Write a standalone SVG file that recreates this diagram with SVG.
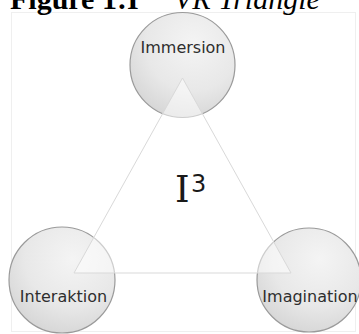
<svg xmlns="http://www.w3.org/2000/svg" width="359" height="334" viewBox="0 0 359 334">
<defs>
<radialGradient id="g" cx="0.6" cy="0.3" r="0.75">
<stop offset="0" stop-color="#f4f4f4"/>
<stop offset="0.6" stop-color="#e8e8e8"/>
<stop offset="1" stop-color="#d5d5d5"/>
</radialGradient>
<style>
.node{fill:url(#g);stroke:#9a9a9a;stroke-width:1.2}
.lbl{font-family:"DejaVu Sans",Verdana,sans-serif;font-size:16px;fill:#2e2e2e;text-anchor:middle}
.tri{fill:#ffffff;fill-opacity:0.5;stroke:#d9d9d9;stroke-width:1}
.title{font-family:'Liberation Serif','Times New Roman',serif;font-size:30px;fill:#000}
</style>
</defs>
<rect x="0" y="0" width="359" height="334" fill="#ffffff"/>
<rect x="11.5" y="12.5" width="344" height="319" fill="none" stroke="#efefef" stroke-width="1"/>
<text class="title" x="10" y="9" font-weight="bold">Figure 1:</text>
<text class="title" x="127" y="9" font-weight="bold">I</text>
<text class="title" x="174" y="9" font-style="italic">VR Triangle</text>
<g id="immersion"><circle class="node" cx="182.5" cy="65" r="52.5"/><text class="lbl" x="183" y="53">Immersion</text></g>
<g id="interaktion"><circle class="node" cx="62" cy="280" r="53"/><text class="lbl" x="63.5" y="302">Interaktion</text></g>
<g id="imagination"><circle class="node" cx="309" cy="280" r="52"/><text class="lbl" x="310" y="302">Imagination</text></g>
<g id="connectors"><polygon class="tri" points="182.5,78 74,273 291,273"/></g>
<g id="center"><text x="175" y="202" font-family="'DejaVu Serif',serif" font-size="37" fill="#1a1a1a">I</text><text x="191" y="192" font-family="'DejaVu Sans',sans-serif" font-size="24" fill="#1a1a1a">3</text></g>
</svg>
